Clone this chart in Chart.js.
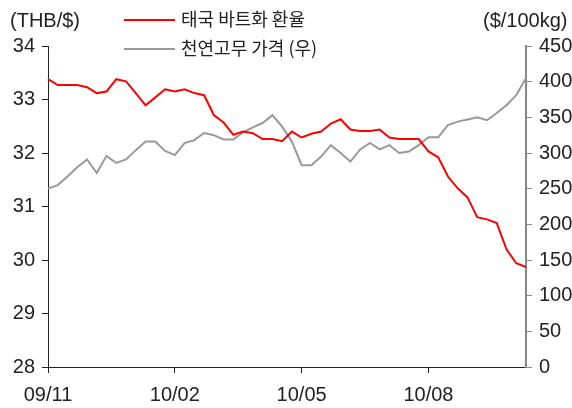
<!DOCTYPE html>
<html>
<head>
<meta charset="utf-8">
<script src="https://cdn.jsdelivr.net/npm/chart.js@4/dist/chart.umd.min.js"></script>
<style>
  html, body { margin: 0; padding: 0; background: #fff; }
  #wrap { position: relative; width: 572px; height: 408px; }
  #chart { position: absolute; left: 0; top: 0; }
  .txt { position: absolute; font-family: 'Liberation Sans', sans-serif; font-size: 20px; color: #222; white-space: nowrap; line-height: 20px; }
  .kr { font-family: 'Noto Sans CJK KR', sans-serif; font-size: 18px; }
  .swatch { position: absolute; height: 2px; width: 51px; }
</style>
</head>
<body>
<div id="wrap">
  <canvas id="chart" width="572" height="408"></canvas>
  <div class="txt" style="left:10px; top:10px;">(THB/$)</div>
  <div class="txt" style="left:483px; top:10px;">($/100kg)</div>
  <div class="swatch" style="left:124px; top:19px; background:#ff0000;"></div>
  <div class="txt kr" style="left:181px; top:8px;">태국 바트화 환율</div>
  <div class="swatch" style="left:124px; top:48px; background:#999999;"></div>
  <div class="txt kr" style="left:181px; top:37px;">천연고무 가격 (우)</div>
</div>
<script>
// weekly points, labels only every quarter
var tickLabels = ['09/11', '', '', '', '', '', '', '', '', '', '', '', '',
                  '10/02', '', '', '', '', '', '', '', '', '', '', '', '',
                  '10/05', '', '', '', '', '', '', '', '', '', '', '', '',
                  '10/08', '', '', '', '', '', '', '', '', '', ''];

// 태국 바트화 환율 (THB/$), left axis
var bahtRate = [33.38, 33.27, 33.27, 33.27, 33.23, 33.12, 33.15, 33.38, 33.34, 33.12,
                32.89, 33.04, 33.19, 33.15, 33.19, 33.12, 33.08, 32.71, 32.57, 32.34,
                32.40, 32.37, 32.26, 32.26, 32.22, 32.40, 32.29, 32.36, 32.40, 32.55,
                32.63, 32.44, 32.41, 32.41, 32.44, 32.29, 32.26, 32.26, 32.26, 32.03,
                31.92, 31.56, 31.34, 31.17, 30.80, 30.76, 30.69, 30.20, 29.94, 29.87];

// 천연고무 가격 ($/100kg), right axis
var rubberPrice = [250, 255, 267, 280, 291, 272, 296, 286, 291, 304,
                   316, 316, 303, 297, 314, 318, 328, 325, 319, 319,
                   329, 336, 342, 353, 337, 316, 283, 283, 295, 311,
                   300, 288, 305, 314, 305, 311, 300, 302, 311, 322,
                   322, 339, 344, 347, 350, 346, 356, 367, 381, 405];

var leftTicks = [28, 29, 30, 31, 32, 33, 34];
var rightTicks = [0, 50, 100, 150, 200, 250, 300, 350, 400, 450];

var tickFont = { family: "'Liberation Sans', sans-serif", size: 20 };

function fixWidth(w) {
  return function(scale) { scale.width = w; };
}

var chart = new Chart(document.getElementById('chart'), {
  type: 'line',
  data: {
    labels: tickLabels,
    datasets: [{
      data: bahtRate,
      yAxisID: 'y',
      borderColor: '#ff0000',
      borderWidth: 2,
      pointRadius: 0,
      tension: 0
    }, {
      data: rubberPrice,
      yAxisID: 'y2',
      borderColor: '#999999',
      borderWidth: 2,
      pointRadius: 0,
      tension: 0
    }]
  },
  options: {
    responsive: false,
    animation: false,
    layout: { padding: { top: 46, left: 0, right: 0, bottom: 0 } },
    plugins: {
      legend: { display: false },
      tooltip: { enabled: false }
    },
    scales: {
      x: {
        offset: false,
        afterFit: function(scale) { scale.height = 41; },
        border: { color: '#222', width: 1 },
        grid: {
          drawOnChartArea: false,
          tickLength: 6,
          offset: false,
          color: function(ctx) {
            return tickLabels[ctx.index] ? '#222' : 'rgba(0,0,0,0)';
          }
        },
        ticks: {
          autoSkip: false,
          maxRotation: 0,
          padding: 10,
          color: '#222',
          font: tickFont
        }
      },
      y: {
        position: 'left',
        min: leftTicks[0],
        max: leftTicks[leftTicks.length - 1],
        afterFit: fixWidth(48),
        afterBuildTicks: function(scale) {
          scale.ticks = leftTicks.map(function(v) { return { value: v }; });
        },
        border: { color: '#222', width: 1 },
        grid: { drawOnChartArea: false, tickLength: 6, color: '#222' },
        ticks: { padding: 7, color: '#222', font: tickFont }
      },
      y2: {
        position: 'right',
        min: rightTicks[0],
        max: rightTicks[rightTicks.length - 1],
        afterFit: fixWidth(46),
        afterBuildTicks: function(scale) {
          scale.ticks = rightTicks.map(function(v) { return { value: v }; });
        },
        border: { color: '#888', width: 2 },
        grid: { drawOnChartArea: false, tickLength: 6, color: '#888' },
        ticks: { padding: 7, color: '#222', font: tickFont }
      }
    }
  }
});
</script>
</body>
</html>
